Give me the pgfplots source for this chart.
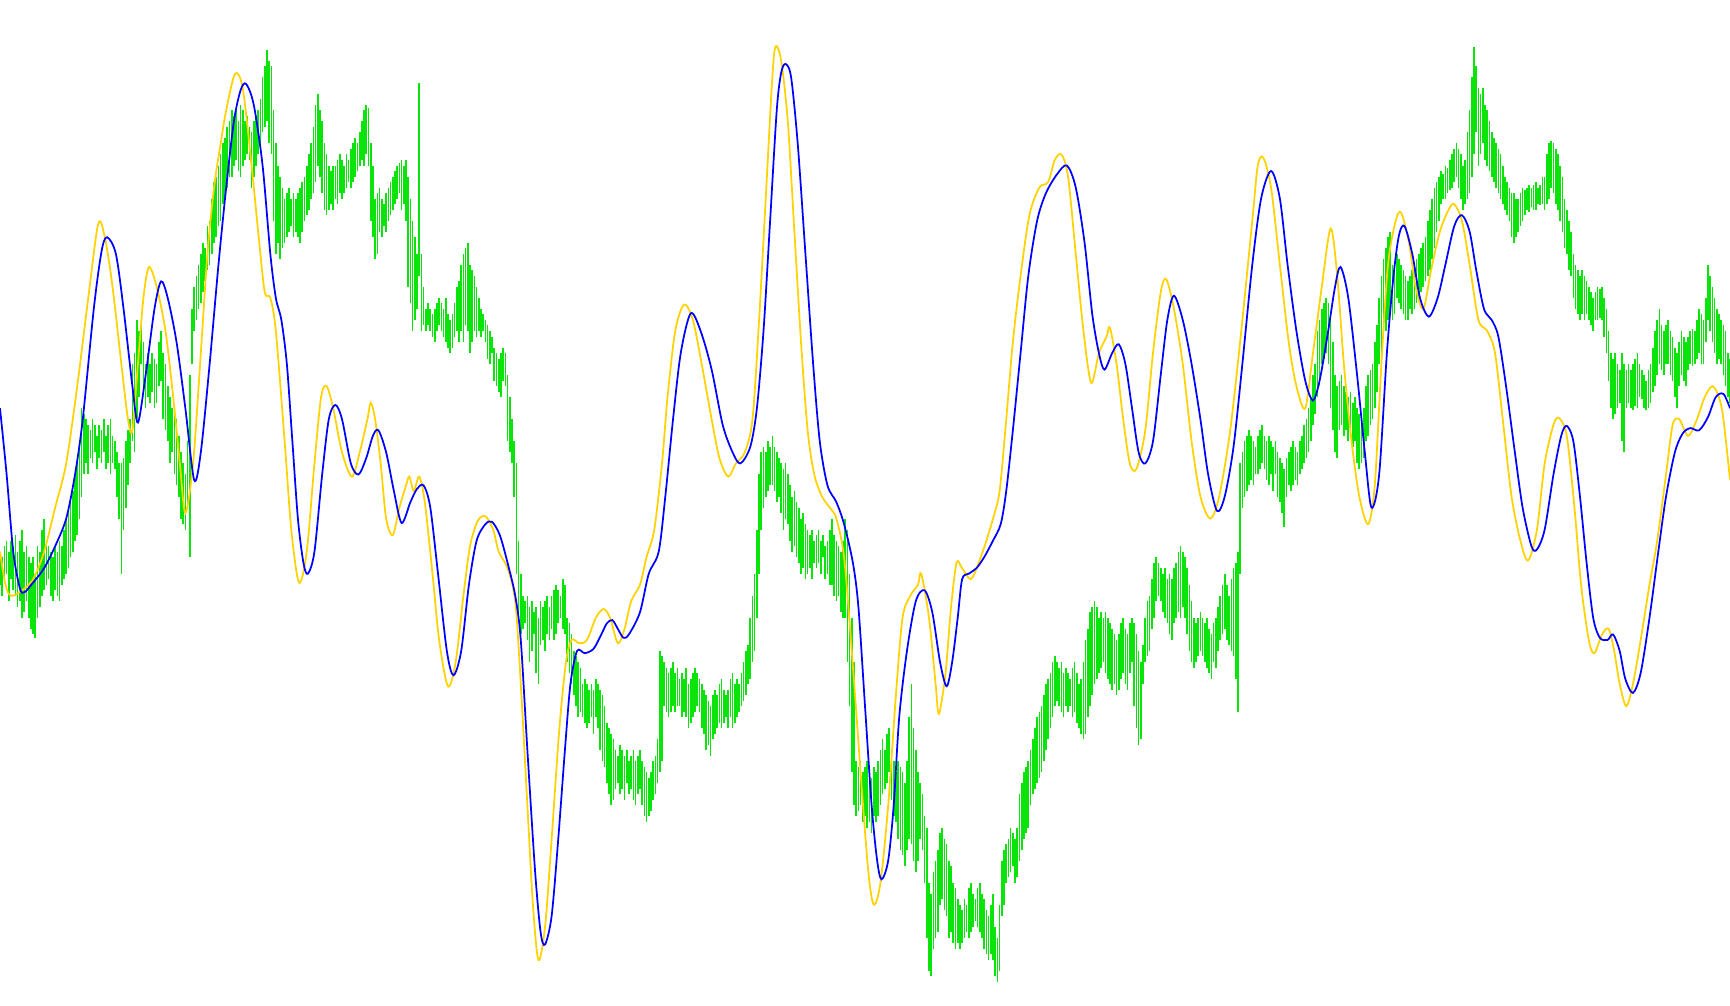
\documentclass[border=0pt]{standalone}
\usepackage{pgfplots}
\usepackage{pgfplotstable}
\pgfplotsset{compat=1.18}
\definecolor{grn}{RGB}{10,228,10}
\definecolor{gld}{RGB}{255,210,0}
\definecolor{blu}{RGB}{0,0,255}
\pgfplotstableread{
x t b
0 500 530
2 505 540
4 495 525
6 490 520
8 500 545
10 490 525
12 495 535
14 485 540
16 500 550
18 490 545
20 480 560
22 500 555
24 495 545
26 505 560
28 510 570
30 505 575
32 520 578
34 495 560
36 500 550
38 480 540
40 470 535
42 490 530
44 495 525
46 500 540
48 505 545
50 495 535
52 500 540
54 490 545
56 495 530
58 480 525
60 470 520
62 460 515
64 450 505
66 445 500
68 430 490
70 420 485
72 400 470
74 370 450
76 375 430
78 380 420
80 385 430
82 390 415
84 380 420
86 385 410
88 395 425
90 385 415
92 390 420
94 380 410
96 395 425
98 385 420
100 380 430
102 395 420
104 400 425
106 410 450
108 420 470
110 420 520
112 415 480
114 400 460
116 390 440
118 380 420
120 330 400
122 320 410
124 290 380
126 300 360
128 295 330
130 310 350
132 330 370
134 320 360
136 330 365
138 320 355
140 325 370
142 330 365
144 310 350
146 300 345
148 320 380
150 330 390
152 350 400
154 360 420
156 370 410
158 375 430
160 380 440
162 395 450
164 410 470
166 420 475
168 430 480
170 400 460
172 340 505
174 280 330
176 260 300
178 250 290
180 240 280
182 230 275
184 220 265
186 225 255
188 205 245
190 200 240
192 180 230
194 165 220
196 160 215
198 150 205
200 140 200
202 130 185
204 125 180
206 115 170
208 110 160
210 100 160
212 105 150
214 100 145
216 110 155
218 95 160
220 100 150
222 110 145
224 105 140
226 115 145
228 120 170
230 110 160
232 105 150
234 100 140
236 90 130
238 70 120
240 60 115
242 45 110
244 55 130
246 60 140
248 100 200
250 130 230
252 150 220
254 160 235
256 170 225
258 180 220
260 175 215
262 170 210
264 180 205
266 175 215
268 180 210
270 175 215
272 170 220
274 165 210
276 160 200
278 150 195
280 140 190
282 130 180
284 115 175
286 95 165
288 85 150
290 100 160
292 110 175
294 130 190
296 140 195
298 150 190
300 155 185
302 150 190
304 150 180
306 145 185
308 140 175
310 145 180
312 150 175
314 140 170
316 145 165
318 135 170
320 130 165
322 125 160
324 130 155
326 120 150
328 110 145
330 100 150
332 95 140
334 98 150
336 130 200
338 150 215
340 180 235
342 175 230
344 170 210
346 180 215
348 185 205
350 175 210
352 170 200
354 165 195
356 160 190
358 155 185
360 150 180
362 148 175
364 145 190
366 150 185
368 145 200
370 160 260
372 180 275
374 200 300
376 215 290
378 230 280
380 75 250
382 230 300
384 260 295
386 280 300
388 275 295
390 280 300
392 285 305
394 280 310
396 275 300
398 270 295
400 275 300
402 280 305
404 270 310
406 285 315
408 290 320
410 285 315
412 275 305
414 260 300
416 255 310
418 240 300
420 230 310
422 225 295
424 220 300
426 240 320
428 245 310
430 250 300
432 260 305
434 270 300
436 280 305
438 285 300
440 290 310
442 295 325
444 300 330
446 305 320
448 315 345
450 320 350
452 325 355
454 320 360
456 315 345
458 320 350
460 340 400
462 360 410
464 380 420
466 400 450
468 420 520
470 490 560
472 520 575
474 540 570
476 545 565
478 540 580
480 550 600
482 545 590
484 555 575
486 550 610
488 560 620
490 545 585
492 550 580
494 545 590
496 540 575
498 550 580
500 540 570
502 535 580
504 530 575
506 535 565
508 540 560
510 525 570
512 530 575
514 560 600
516 565 610
518 575 620
520 590 630
522 595 640
524 600 650
526 605 645
528 620 650
530 615 655
532 620 660
534 625 655
536 620 650
538 625 665
540 615 650
542 620 660
544 625 680
546 630 690
548 640 695
550 655 710
552 660 720
554 665 730
556 670 725
558 680 715
560 685 710
562 675 720
564 680 715
566 685 725
568 680 710
570 690 720
572 685 715
574 680 725
576 690 730
578 685 720
580 680 715
582 690 730
584 695 740
586 700 745
588 705 740
590 700 735
592 690 725
594 685 720
596 670 710
598 590 700
600 595 690
602 600 640
604 605 645
606 610 650
608 605 645
610 600 640
612 610 645
614 605 640
616 615 640
618 610 650
620 615 645
622 605 650
624 620 660
626 615 655
628 610 650
630 605 645
632 610 640
634 615 645
636 620 660
638 625 665
640 630 680
642 635 675
644 640 685
646 630 670
648 625 665
650 630 660
652 620 655
654 615 660
656 625 655
658 630 650
660 625 660
662 615 650
664 610 660
666 620 655
668 615 650
670 620 645
672 610 640
674 600 635
676 590 630
678 585 620
680 560 615
682 540 600
684 520 590
686 480 560
688 430 520
690 410 480
692 405 460
694 410 450
696 400 445
698 405 440
700 395 440
702 405 445
704 410 455
706 415 450
708 420 465
710 425 480
712 420 470
714 430 475
716 440 490
718 450 500
720 445 495
722 455 505
724 460 510
726 470 520
728 465 515
730 475 525
732 480 520
734 485 515
736 480 525
738 490 510
740 485 515
742 480 510
744 490 520
746 485 505
748 495 525
750 490 520
752 480 530
754 470 530
756 485 540
758 490 545
760 495 540
762 500 555
764 490 560
766 470 560
768 480 600
770 520 640
772 560 700
774 600 730
776 690 740
778 695 735
780 690 730
782 700 745
784 695 740
786 690 750
788 700 745
790 705 755
792 695 740
794 700 745
796 690 740
798 680 730
800 670 720
802 680 715
804 665 710
806 660 700
808 680 725
810 690 740
812 700 745
814 690 760
816 695 770
818 700 775
820 710 785
822 690 770
824 650 760
826 620 765
828 660 780
830 680 790
832 700 780
834 710 760
836 720 770
838 740 800
840 750 850
842 800 880
844 810 885
846 790 860
848 780 850
850 770 845
852 755 820
854 750 815
856 760 825
858 765 830
860 780 850
862 785 845
864 800 855
866 805 860
868 815 855
870 820 860
872 825 855
874 815 850
876 820 845
878 805 850
880 800 845
882 810 840
884 815 835
886 805 840
888 800 845
890 810 850
892 815 860
894 825 865
896 830 870
898 820 865
900 810 870
902 840 885
904 850 890
906 820 880
908 780 830
910 770 820
912 765 800
914 760 795
916 750 790
918 755 785
920 760 800
922 750 795
924 720 780
926 710 770
928 700 760
930 695 755
932 690 750
934 680 730
936 670 720
938 660 715
940 650 710
942 645 705
944 640 700
946 630 690
948 620 680
950 615 670
952 610 660
954 600 650
956 595 640
958 600 635
960 605 640
962 600 645
964 610 650
966 605 640
968 610 645
970 615 640
972 605 650
974 600 645
976 610 655
978 620 660
980 615 665
982 600 670
984 580 665
986 570 650
988 555 640
990 550 630
992 545 620
994 550 615
996 560 610
998 555 605
1000 560 600
1002 555 610
1004 560 615
1006 565 620
1008 570 625
1010 575 620
1012 580 630
1014 575 625
1016 565 615
1018 560 610
1020 570 620
1022 575 625
1024 565 610
1026 560 600
1028 565 640
1030 575 660
1032 590 675
1034 600 670
1036 585 620
1038 560 600
1040 545 595
1042 540 590
1044 525 570
1046 510 560
1048 505 545
1050 510 540
1052 515 545
1054 520 555
1056 515 560
1058 525 565
1060 520 575
1062 525 580
1064 515 565
1066 510 560
1068 500 555
1070 495 560
1072 500 550
1074 505 560
1076 515 575
1078 530 590
1080 545 600
1082 560 605
1084 565 600
1086 560 595
1088 555 590
1090 560 595
1092 565 600
1094 560 605
1096 570 610
1098 575 615
1100 565 600
1102 560 605
1104 550 590
1106 540 580
1108 530 575
1110 520 570
1112 530 580
1114 540 585
1116 525 590
1118 515 595
1120 510 615
1122 500 645
1124 420 520
1126 410 460
1128 400 450
1130 395 445
1132 390 440
1134 395 435
1136 400 440
1138 405 430
1140 395 430
1142 390 425
1144 385 420
1146 395 425
1148 400 435
1150 395 440
1152 400 430
1154 405 445
1156 400 430
1158 410 450
1160 415 455
1162 420 465
1164 425 478
1166 415 450
1168 410 440
1170 405 445
1172 400 440
1174 405 435
1176 410 440
1178 400 430
1180 395 425
1182 385 420
1184 380 415
1186 370 410
1188 360 400
1190 340 385
1192 330 375
1194 300 360
1196 290 350
1198 280 330
1200 275 325
1202 270 320
1204 275 330
1206 290 370
1208 310 390
1210 340 410
1212 350 415
1214 345 390
1216 340 385
1218 350 395
1220 355 390
1222 360 400
1224 355 395
1226 365 405
1228 360 400
1230 370 420
1232 375 425
1234 380 420
1236 370 415
1238 350 400
1240 340 395
1242 335 385
1244 330 380
1246 310 370
1248 295 355
1250 270 330
1252 250 320
1254 235 305
1256 225 300
1258 215 290
1260 210 285
1262 240 290
1264 245 285
1266 230 270
1268 235 275
1270 240 280
1272 245 285
1274 250 290
1276 255 290
1278 250 280
1280 245 285
1282 240 280
1284 235 275
1286 230 270
1288 225 265
1290 220 260
1292 215 255
1294 200 250
1296 190 245
1298 180 235
1300 170 225
1302 165 210
1304 160 200
1306 155 185
1308 158 180
1310 150 180
1312 152 175
1314 145 172
1316 140 170
1318 135 165
1320 130 160
1322 135 170
1324 140 180
1326 150 190
1328 145 185
1330 120 180
1332 100 175
1334 70 160
1336 43 140
1338 60 120
1340 80 150
1342 85 140
1344 80 130
1346 95 145
1348 100 150
1350 110 155
1352 120 160
1354 125 165
1356 130 170
1358 135 175
1360 140 180
1362 150 185
1364 160 190
1366 165 195
1368 170 200
1370 175 215
1372 175 220
1374 180 215
1376 180 210
1378 175 205
1380 170 200
1382 172 195
1384 170 190
1386 168 192
1388 170 188
1390 168 190
1392 165 190
1394 170 185
1396 168 186
1398 160 185
1400 160 190
1402 140 185
1404 130 180
1406 128 170
1408 130 175
1410 135 185
1412 140 190
1414 150 200
1416 160 210
1418 180 225
1420 190 230
1422 200 245
1424 210 250
1426 230 270
1428 240 280
1430 245 285
1432 250 290
1434 245 285
1436 250 290
1438 255 285
1440 260 290
1442 265 295
1444 270 300
1446 265 290
1448 260 290
1450 262 288
1452 260 290
1454 270 305
1456 280 320
1458 300 345
1460 320 370
1462 325 380
1464 320 375
1466 330 370
1468 335 365
1470 320 400
1472 330 410
1474 335 370
1476 330 365
1478 335 370
1480 330 372
1482 325 368
1484 320 370
1486 330 360
1488 335 362
1490 340 370
1492 345 372
1494 335 370
1496 330 365
1498 315 355
1500 300 350
1502 290 340
1504 280 330
1506 295 335
1508 300 340
1510 295 330
1512 290 330
1514 300 340
1516 305 345
1518 315 360
1520 320 370
1522 310 350
1524 300 340
1526 305 345
1528 310 350
1530 305 335
1532 300 330
1534 298 332
1536 300 330
1538 290 325
1540 280 320
1542 285 330
1544 290 330
1546 270 310
1548 240 290
1550 250 300
1552 260 310
1554 270 320
1556 280 330
1558 285 325
1560 290 330
1562 295 340
1564 300 350
1566 320 360
1568 325 365
}\bars
\begin{document}
\begin{tikzpicture}
\begin{axis}[width=15.68cm, height=9.11cm, scale only axis, hide axis,
  xmin=0, xmax=1568, ymin=0, ymax=911, y dir=reverse, clip=true]
\addplot[draw=none, mark=none, forget plot,
  error bars/.cd, y dir=plus, y explicit, error mark=none,
  error bar style={draw=grn, line width=0.42pt}]
  table[x=x, y=t, y error plus expr=\thisrow{b}-\thisrow{t}] {\bars};
\addplot[gld, line width=0.45pt, smooth, tension=0.5, mark=none] coordinates {
(0,500) (5,530) (10,540) (20,535) (30,525) (40,500) (50,460) (60,420) (70,350) (80,270) (89,203) (95,215) (102,260) (110,330) (116,380) (120,390) (125,330) (130,270) (135,242) (142,260) (150,300) (157,360) (163,420) (168,465) (175,420) (182,320) (188,230) (194,170) (200,130) (205,100) (213,67) (220,80) (228,150) (235,220) (240,265) (245,270) (250,300) (258,400) (264,480) (271,528) (278,500) (285,420) (291,360) (296,350) (302,370) (310,410) (319,432) (326,410) (333,380) (336,365) (340,380) (345,420) (350,470) (356,485) (362,460) (368,440) (371,432) (375,445) (380,432) (385,455) (392,520) (398,580) (406,622) (413,600) (420,540) (426,495) (433,472) (440,468) (447,480) (452,500) (460,515) (467,545) (472,620) (478,730) (483,820) (488,870) (494,840) (500,760) (507,660) (513,600) (518,580) (525,583) (532,580) (540,560) (547,552) (553,560) (560,583) (566,570) (572,545) (580,530) (586,505) (593,480) (600,420) (605,360) (612,300) (620,276) (628,290) (636,330) (645,380) (652,415) (660,432) (667,420) (675,410) (682,380) (688,290) (694,180) (700,70) (703,42) (708,55) (714,110) (720,210) (726,310) (732,390) (738,430) (745,450) (752,460) (758,470) (765,505) (772,590) (780,700) (787,790) (792,820) (798,800) (805,730) (812,630) (818,560) (825,540) (832,530) (835,520) (842,560) (848,620) (851,647) (857,610) (862,550) (867,510) (872,515) (880,525) (887,510) (894,490) (900,470) (906,445) (912,380) (918,310) (925,250) (933,195) (942,170) (950,165) (956,145) (962,140) (968,160) (975,230) (982,300) (989,347) (996,320) (1003,305) (1006,297) (1012,330) (1018,380) (1024,420) (1030,425) (1038,390) (1045,320) (1052,265) (1057,253) (1064,280) (1072,330) (1080,400) (1088,450) (1097,470) (1105,450) (1115,390) (1125,300) (1135,200) (1140,150) (1145,143) (1152,170) (1160,240) (1168,310) (1175,350) (1183,370) (1190,320) (1198,260) (1206,207) (1212,250) (1218,330) (1225,400) (1232,450) (1240,475) (1246,440) (1252,330) (1258,240) (1265,200) (1270,193) (1277,220) (1283,260) (1290,280) (1297,245) (1305,210) (1313,190) (1318,185) (1325,200) (1332,240) (1340,290) (1348,300) (1355,320) (1362,380) (1370,450) (1378,490) (1385,508) (1393,480) (1400,420) (1408,385) (1413,379) (1420,395) (1427,460) (1433,530) (1440,580) (1445,592) (1452,575) (1458,570) (1463,590) (1468,620) (1474,640) (1480,620) (1487,580) (1495,530) (1502,490) (1510,430) (1516,385) (1522,380) (1530,395) (1538,380) (1545,360) (1552,350) (1558,360) (1562,380) (1568,435)
};
\addplot[blu, line width=0.45pt, smooth, tension=0.5, mark=none] coordinates {
(0,370) (6,430) (12,500) (18,533) (22,537) (30,528) (40,515) (50,495) (60,470) (68,430) (75,380) (85,280) (92,228) (97,215) (105,230) (112,280) (120,350) (125,383) (132,340) (140,280) (146,255) (152,270) (160,310) (168,370) (176,435) (182,410) (190,330) (198,240) (205,170) (212,110) (218,82) (223,76) (230,95) (238,150) (245,230) (250,270) (255,290) (260,330) (265,400) (270,470) (275,510) (279,520) (285,500) (292,430) (298,380) (304,367) (310,380) (318,420) (325,430) (332,415) (338,395) (343,390) (350,410) (357,445) (364,474) (372,455) (378,443) (384,440) (390,460) (397,520) (405,590) (411,612) (418,590) (425,530) (432,490) (440,475) (446,473) (453,485) (460,510) (467,540) (472,580) (478,680) (485,790) (490,845) (494,856) (500,830) (506,760) (512,680) (517,620) (523,590) (530,592) (538,588) (545,575) (550,565) (555,562) (560,570) (565,578) (570,575) (580,555) (588,520) (597,500) (603,450) (610,380) (617,320) (626,284) (635,300) (645,335) (655,385) (664,410) (671,420) (680,405) (686,370) (692,300) (698,200) (704,100) (708,66) (712,58) (717,70) (723,130) (730,230) (737,330) (743,400) (750,440) (758,455) (765,475) (773,510) (778,550) (784,640) (790,730) (795,780) (799,797) (805,780) (810,730) (815,650) (822,590) (830,545) (838,535) (845,555) (852,600) (858,622) (863,600) (868,560) (872,525) (878,520) (885,515) (892,505) (900,490) (907,475) (912,445) (918,390) (925,320) (932,250) (940,200) (948,175) (958,158) (967,150) (975,170) (983,220) (990,285) (996,320) (1001,335) (1008,320) (1014,312) (1020,330) (1026,370) (1032,410) (1038,420) (1045,400) (1052,340) (1058,290) (1064,268) (1072,290) (1080,330) (1088,380) (1095,430) (1103,463) (1110,450) (1118,405) (1126,330) (1135,240) (1143,180) (1152,155) (1160,180) (1167,240) (1175,300) (1183,345) (1190,363) (1196,345) (1203,305) (1210,260) (1215,242) (1222,270) (1230,340) (1237,410) (1243,460) (1250,430) (1257,320) (1263,250) (1268,213) (1273,205) (1280,230) (1287,270) (1295,287) (1303,270) (1310,240) (1318,205) (1325,195) (1332,210) (1338,245) (1345,280) (1352,290) (1358,305) (1365,350) (1373,410) (1380,460) (1388,495) (1393,498) (1400,480) (1408,430) (1415,395) (1420,386) (1426,400) (1432,450) (1438,510) (1444,560) (1450,578) (1457,580) (1462,575) (1468,590) (1473,615) (1480,628) (1487,610) (1495,560) (1503,500) (1510,450) (1518,410) (1525,393) (1532,388) (1540,390) (1548,378) (1555,360) (1562,357) (1568,370)
};
\end{axis}
\path (current axis.south west) rectangle (current axis.north east);
\end{tikzpicture}
\end{document}
